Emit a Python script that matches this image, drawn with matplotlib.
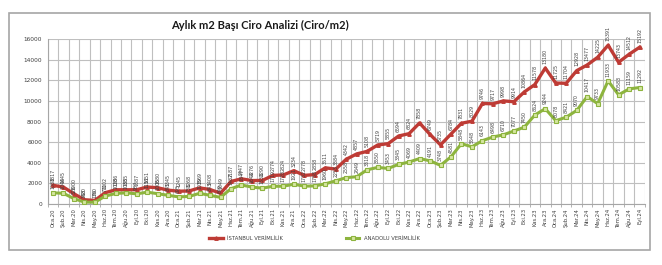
import matplotlib
matplotlib.use('Agg')
import matplotlib.pyplot as plt
from matplotlib.patches import Rectangle

# month labels Oca.20 ... Eyl.24
aylar = ['Oca', 'Şub', 'Mar', 'Nis', 'May', 'Haz', 'Tem', 'Ağu', 'Eyl', 'Eki', 'Kas', 'Ara']
yillar = ['20', '21', '22', '23', '24']
donemler = [a + '.' + y for y in yillar for a in aylar][:57]

istanbul = [1817, 1645, 1000, 420, 350, 1102, 1386, 1385, 1387, 1651, 1580, 1345,
            1245, 1268, 1569, 1408, 1049, 2187, 2447, 2276, 2290, 2774, 2824, 3234,
            2778, 2858, 3511, 3384, 4342, 4857, 5108, 5719, 5855, 6594, 6824, 7858,
            6749, 5735, 6784, 7831, 8029, 9746, 9717, 9998, 9914, 10864, 11578, 13180,
            11725, 11704, 12928, 13477, 14225, 15391, 13743, 14512, 15192]
anadolu = [1088, 1044, 526, 188, 176, 770, 1028, 1085, 987, 1151, 1006, 845,
           695, 738, 1039, 843, 649, 1487, 1847, 1644, 1538, 1719, 1728, 1921,
           1732, 1758, 1960, 2253, 2558, 2649, 3318, 3550, 3453, 3845, 4069, 4409,
           4191, 3748, 4581, 5848, 5548, 6143, 6498, 6710, 7077, 7450, 8624, 9244,
           8078, 8421, 9070, 10417, 9733, 11933, 10583, 11159, 11292]

red = '#BE3B35'
green = '#8DB43E'

fig = plt.figure(figsize=(6.62, 2.65), dpi=100)
fig.patches.append(Rectangle((0.0136, 0.057), 0.968, 0.894, transform=fig.transFigure,
                             fill=False, edgecolor='#A6A6A6', linewidth=1.2))
ax = fig.add_axes([0.072, 0.230, 0.902, 0.623])

x = list(range(len(donemler)))
ax.plot(x, istanbul, color=red, linewidth=2.4, marker='^', markersize=2.5,
        markerfacecolor=red, markeredgecolor=red, label='İSTANBUL VERİMLİLİK', zorder=3)
ax.plot(x, anadolu, color=green, linewidth=2.2, marker='s', markersize=3.2,
        markerfacecolor='#D5E6A0', markeredgecolor=green, markeredgewidth=0.8,
        label='ANADOLU VERİMLİLİK', zorder=3)

# data labels
for i in x:
    ax.annotate(str(istanbul[i]), (i, istanbul[i]), xytext=(0, 3), textcoords='offset points',
                rotation=90, ha='center', va='bottom', fontsize=3.4, color='#404040', zorder=4)
    ax.annotate(str(anadolu[i]), (i, anadolu[i]), xytext=(0, 3), textcoords='offset points',
                rotation=90, ha='center', va='bottom', fontsize=3.4, color='#404040', zorder=4)

ax.set_xlim(-0.5, len(donemler) - 0.5)
ax.set_ylim(0, 16000)
ax.set_yticks(range(0, 16001, 2000))
ax.set_xticks(x)
ax.set_xticklabels(donemler, rotation=90, fontsize=3.8, color='#404040')
ax.set_xticks([i - 0.5 for i in range(len(donemler) + 1)], minor=True)
ax.tick_params(axis='y', labelsize=4.2, colors='#404040', length=0, pad=4)
ax.tick_params(axis='x', which='major', length=0, pad=3)
ax.tick_params(axis='x', which='minor', length=2, color='#A6A6A6')
ax.grid(True, axis='y', color='#BFBFBF', linewidth=0.8)
ax.grid(True, axis='x', which='minor', color='#BFBFBF', linewidth=0.8)
for s in ax.spines.values():
    s.set_visible(False)
ax.spines['left'].set_visible(True)
ax.spines['left'].set_color('#A6A6A6')
ax.spines['bottom'].set_visible(True)
ax.spines['bottom'].set_color('#A6A6A6')
ax.set_axisbelow(True)

fig.text(0.393, 0.905, 'Aylık m2 Başı Ciro Analizi (Ciro/m2)', ha='center', va='center',
         fontsize=8, fontweight='bold', family='Lato', color='#1a1a1a')

fig.legend(loc='center', bbox_to_anchor=(0.475, 0.10), ncol=2, frameon=False,
           fontsize=3.8, columnspacing=12, handlelength=2.5, labelcolor='#404040')

plt.savefig('out.png', dpi=100)
